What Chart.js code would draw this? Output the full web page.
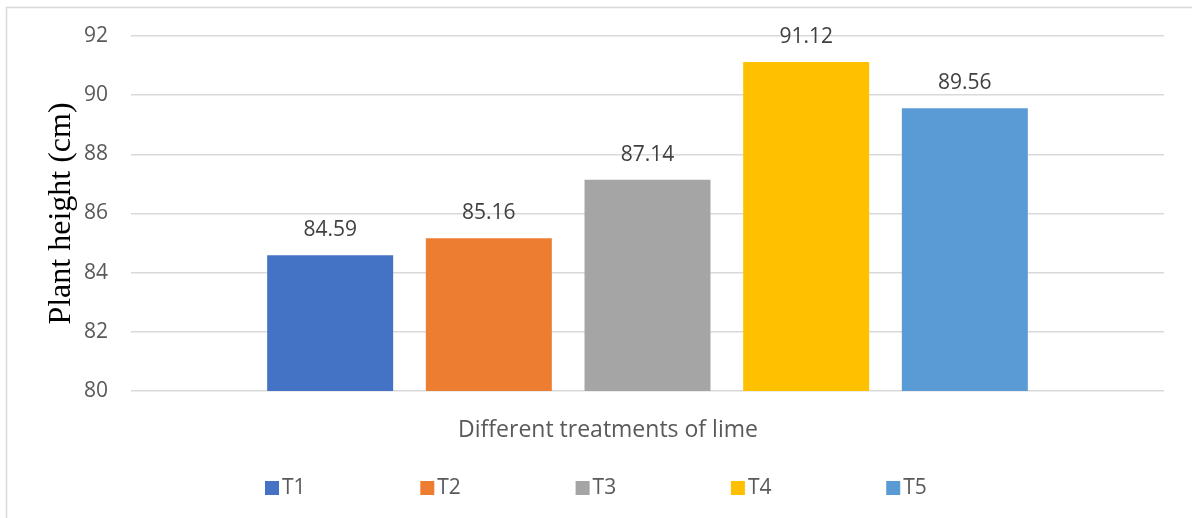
<!DOCTYPE html>
<html>
<head>
<meta charset="utf-8">
<script src="https://cdn.jsdelivr.net/npm/chart.js@4.4.1/dist/chart.umd.min.js"></script>
<style>
  html, body { margin: 0; padding: 0; background: #fff; }
  #wrap { position: relative; width: 1192px; height: 518px; }
</style>
</head>
<body>
<div id="wrap"><canvas id="grafico" width="1192" height="518"></canvas></div>
<script>
// datos
const categorias = [''];
const tratamientos = ['T1', 'T2', 'T3', 'T4', 'T5'];
const alturas = [84.59, 85.16, 87.14, 91.12, 89.56];
const colores = ['#4472C4', '#ED7D31', '#A5A5A5', '#FFC000', '#5B9BD5'];
const ticksY = [80, 82, 84, 86, 88, 90, 92];
const tituloX = 'Different treatments of lime';
const tituloY = 'Plant height (cm)';

const fuente = '"Open Sans", "Noto Sans", sans-serif';

// etiquetas, titulos, leyenda y marco
const extras = {
    id: 'extras',
    beforeDraw(chart) {
        const ctx = chart.ctx;
        ctx.save();
        ctx.strokeStyle = '#D9D9D9';
        ctx.lineWidth = 1.5;
        ctx.beginPath();
        ctx.moveTo(6.5, 520);
        ctx.lineTo(6.5, 7.5);
        ctx.lineTo(1200, 7.5);
        ctx.stroke();
        ctx.restore();
    },
    afterDraw(chart) {
        const ctx = chart.ctx;
        ctx.save();

        // valores encima de cada barra
        ctx.font = '21px ' + fuente;
        ctx.fillStyle = '#404040';
        ctx.textAlign = 'center';
        ctx.textBaseline = 'middle';
        chart.data.datasets.forEach((ds, i) => {
            const bar = chart.getDatasetMeta(i).data[0];
            ctx.fillText(ds.data[0].toFixed(2), bar.x, bar.y - 25);
        });

        // titulo eje x
        ctx.font = '23px ' + fuente;
        ctx.fillStyle = '#595959';
        ctx.fillText(tituloX, 608, 430);

        // titulo eje y
        ctx.save();
        ctx.translate(70, (chart.chartArea.top + chart.chartArea.bottom) / 2);
        ctx.rotate(-Math.PI / 2);
        ctx.font = '32px "Liberation Serif", "Times New Roman", serif';
        ctx.fillStyle = '#000';
        ctx.textBaseline = 'alphabetic';
        ctx.fillText(tituloY, 0, 0);
        ctx.restore();

        // leyenda
        ctx.font = '21px ' + fuente;
        ctx.textAlign = 'left';
        ctx.textBaseline = 'middle';
        chart.data.datasets.forEach((ds, i) => {
            const x = 265 + i * 155.3;
            ctx.fillStyle = ds.backgroundColor;
            ctx.fillRect(x, 481, 14, 14);
            ctx.fillStyle = '#595959';
            ctx.fillText(ds.label, x + 17, 488);
        });

        ctx.restore();
    }
};

const datasets = tratamientos.map((t, i) => ({
    label: t,
    data: [alturas[i]],
    backgroundColor: colores[i],
    borderWidth: 0,
    categoryPercentage: 0.768,
    barPercentage: 0.794
}));

new Chart(document.getElementById('grafico'), {
    type: 'bar',
    data: { labels: categorias, datasets },
    options: {
        responsive: false,
        animation: false,
        events: [],
        layout: { padding: { left: 0, right: 28, top: 36, bottom: 127 } },
        plugins: { legend: { display: false }, tooltip: { enabled: false } },
        scales: {
            x: { display: false },
            y: {
                min: ticksY[0],
                max: ticksY[ticksY.length - 1],
                afterFit(scale) { scale.width = 131; },
                afterBuildTicks(scale) { scale.ticks = ticksY.map(v => ({ value: v })); },
                border: { display: false },
                grid: { color: '#D9D9D9', lineWidth: 1.5, drawTicks: false },
                ticks: {
                    padding: 23,
                    color: '#595959',
                    font: { family: fuente, size: 21 }
                }
            }
        }
    },
    plugins: [extras]
});
</script>
</body>
</html>
